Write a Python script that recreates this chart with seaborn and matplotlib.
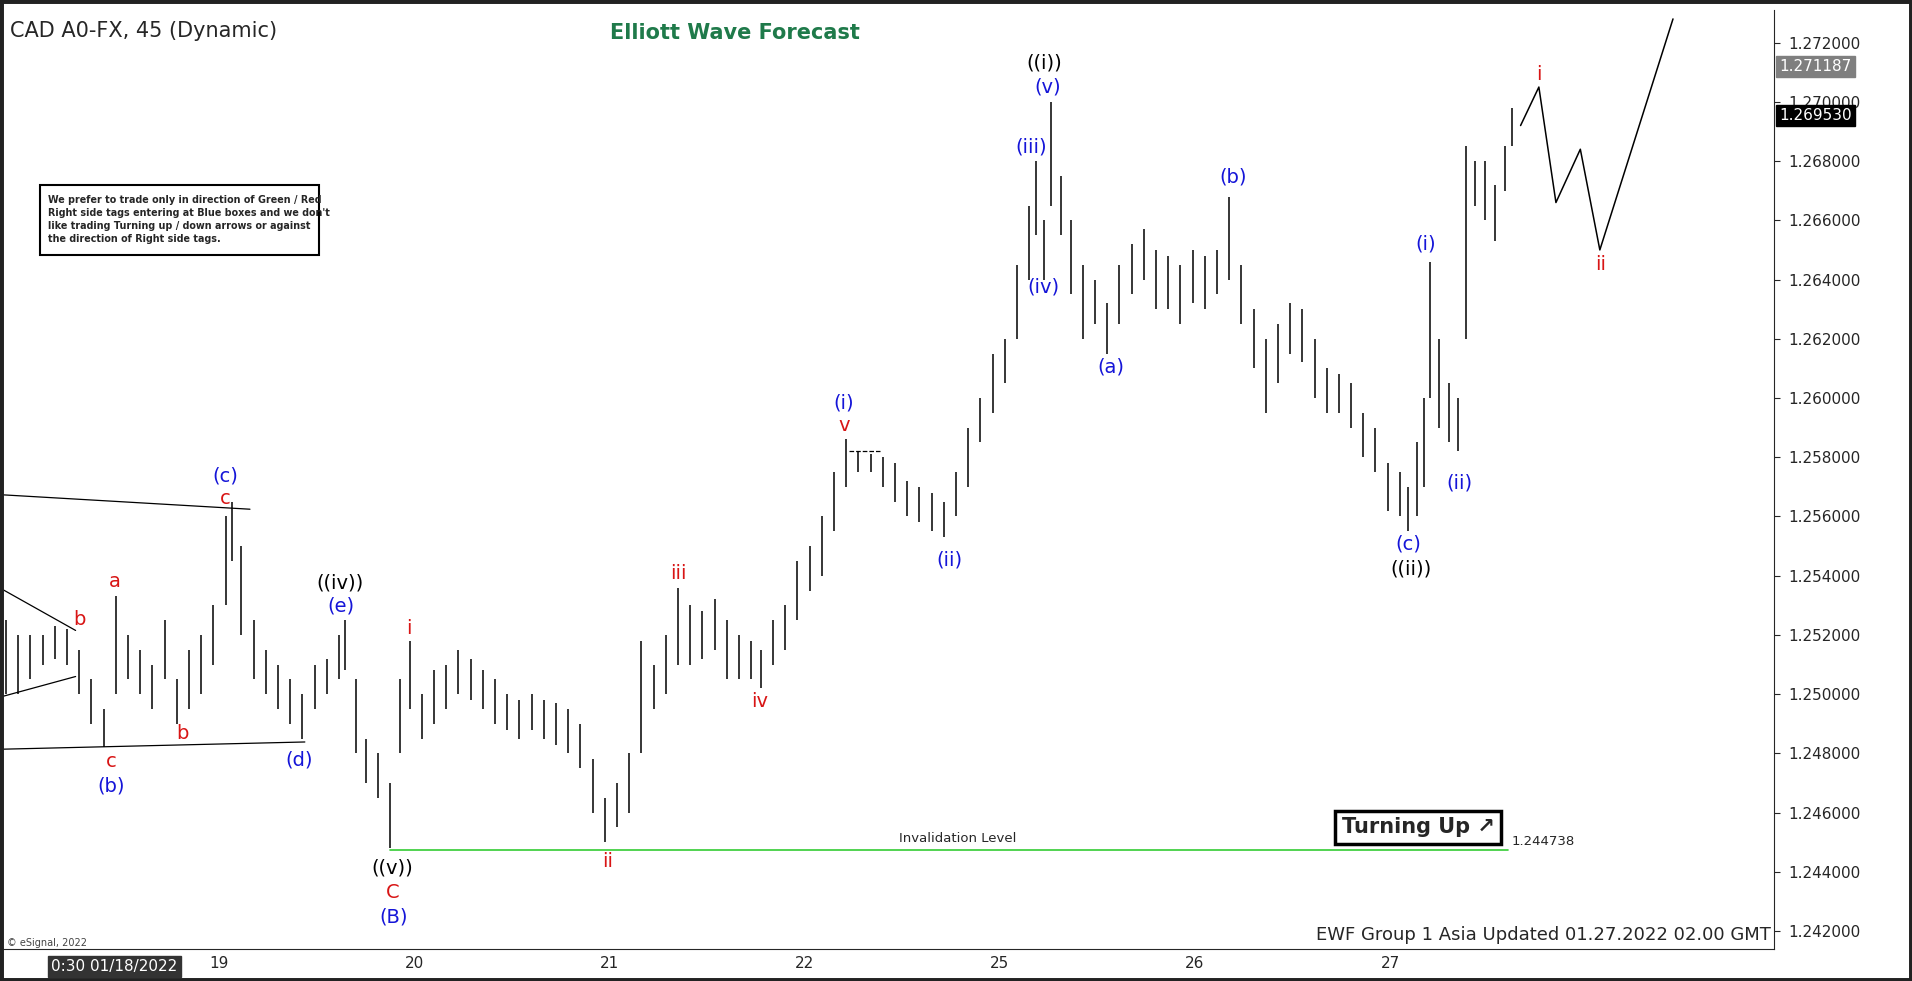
import numpy as np
import pandas as pd
import seaborn as sns
import matplotlib.pyplot as plt
from matplotlib.patches import Rectangle

# bar x positions in screen px (reference at 1568 wide), highs and lows
bar_px = [5, 15, 25, 35, 45, 55, 65, 75, 85, 95, 105, 115, 125, 135, 145, 155, 165, 175, 185, 190,
          198, 208, 218, 228, 238, 248, 258, 268, 278, 283, 292, 300, 310, 320, 328, 336, 346, 356, 366, 376,
          386, 396, 406, 416, 426, 436, 446, 456, 466, 476, 486, 496, 506, 516, 526, 536, 546, 556, 566, 576,
          586, 596, 606, 616, 624, 634, 644, 654, 664, 674, 684, 694, 704, 714, 724, 734, 744, 754, 764, 774,
          784, 794, 804, 814, 824, 834, 844, 850, 856, 862, 870, 878, 888, 898, 908, 918, 928, 938, 948, 958,
          968, 978, 988, 998, 1008, 1018, 1028, 1038, 1048, 1058, 1068, 1078, 1088, 1098, 1108, 1118, 1128, 1138, 1148, 1155,
          1162, 1168, 1173, 1180, 1188, 1196, 1202, 1210, 1218, 1226, 1234, 1240]
highs = [1.2525, 1.2520, 1.2520, 1.2520, 1.2523, 1.2522, 1.2515, 1.2505, 1.2495, 1.2533, 1.2520, 1.2515, 1.2510, 1.2525, 1.2505, 1.2515, 1.2520, 1.2530, 1.2560, 1.2565,
         1.2550, 1.2525, 1.2515, 1.2510, 1.2505, 1.2500, 1.2510, 1.2512, 1.2520, 1.2525, 1.2505, 1.2485, 1.2480, 1.2470, 1.2505, 1.2518, 1.2500, 1.2508, 1.2510, 1.2515,
         1.2512, 1.2508, 1.2505, 1.2500, 1.2498, 1.2500, 1.2498, 1.2497, 1.2495, 1.2490, 1.2478, 1.2465, 1.2470, 1.2480, 1.2518, 1.2510, 1.2520, 1.2536, 1.2530, 1.2528,
         1.2532, 1.2525, 1.2520, 1.2518, 1.2515, 1.2525, 1.2530, 1.2545, 1.2550, 1.2560, 1.2575, 1.2586, 1.2582, 1.2581, 1.2580, 1.2578, 1.2572, 1.2570, 1.2568, 1.2565,
         1.2575, 1.2590, 1.2600, 1.2615, 1.2620, 1.2645, 1.2665, 1.2680, 1.2660, 1.2700, 1.2675, 1.2660, 1.2645, 1.2640, 1.2632, 1.2645, 1.2652, 1.2657, 1.2650, 1.2648,
         1.2645, 1.2650, 1.2648, 1.2650, 1.2668, 1.2645, 1.2630, 1.2620, 1.2625, 1.2632, 1.2630, 1.2620, 1.2610, 1.2608, 1.2605, 1.2595, 1.2590, 1.2578, 1.2575, 1.2570,
         1.2585, 1.2600, 1.2646, 1.2620, 1.2605, 1.2600, 1.2685, 1.2680, 1.2680, 1.2672, 1.2685, 1.2698]
lows = [1.2500, 1.2500, 1.2505, 1.2510, 1.2512, 1.2510, 1.2500, 1.2490, 1.2482, 1.2500, 1.2505, 1.2500, 1.2495, 1.2505, 1.2490, 1.2495, 1.2500, 1.2510, 1.2530, 1.2545,
        1.2520, 1.2505, 1.2500, 1.2495, 1.2490, 1.2485, 1.2495, 1.2500, 1.2505, 1.2508, 1.2480, 1.2470, 1.2465, 1.2448, 1.2480, 1.2495, 1.2485, 1.2490, 1.2495, 1.2500,
        1.2498, 1.2495, 1.2490, 1.2488, 1.2485, 1.2488, 1.2485, 1.2483, 1.2480, 1.2475, 1.2460, 1.2450, 1.2455, 1.2460, 1.2480, 1.2495, 1.2500, 1.2510, 1.2510, 1.2512,
        1.2515, 1.2505, 1.2505, 1.2505, 1.2502, 1.2510, 1.2515, 1.2525, 1.2535, 1.2540, 1.2555, 1.2570, 1.2575, 1.2575, 1.2570, 1.2565, 1.2560, 1.2558, 1.2555, 1.2553,
        1.2560, 1.2570, 1.2585, 1.2595, 1.2605, 1.2620, 1.2640, 1.2655, 1.2640, 1.2665, 1.2655, 1.2635, 1.2620, 1.2625, 1.2615, 1.2625, 1.2635, 1.2640, 1.2630, 1.2630,
        1.2625, 1.2632, 1.2630, 1.2635, 1.2640, 1.2625, 1.2610, 1.2595, 1.2605, 1.2615, 1.2612, 1.2600, 1.2595, 1.2595, 1.2590, 1.2580, 1.2575, 1.2562, 1.2560, 1.2555,
        1.2560, 1.2570, 1.2600, 1.2590, 1.2585, 1.2582, 1.2620, 1.2665, 1.2660, 1.2653, 1.2670, 1.2685]

proj_px = [1247, 1262, 1276, 1296, 1312, 1372]
proj_price = [1.2692, 1.2705, 1.2666, 1.2684, 1.2650, 1.2728]

y_ticks = [1.242, 1.244, 1.246, 1.248, 1.250, 1.252, 1.254, 1.256, 1.258, 1.260, 1.262,
           1.264, 1.266, 1.268, 1.270, 1.272]
day_pos = [19, 20, 21, 22, 23, 24, 25]
day_labels = ["19", "20", "21", "22", "25", "26", "27"]
invalidation = 1.244738
last_price = 1.269530
high_price = 1.271187

W, H = 1568, 804
def t(px):
    return 17.875 + px / 160.0
def py(y):
    return 1.242 + (768 - y) / 24430.0

sns.set_style("white")
fig = plt.figure(figsize=(19.12, 9.81), dpi=100)
fig.patch.set_facecolor("white")
ax = fig.add_axes([0, 26 / H, 1455 / W, 1 - 34 / H])
ax.set_xlim(t(0), t(1455))
ax.set_ylim(py(783), py(8))

df = pd.DataFrame({"t": [t(p) for p in bar_px], "high": highs, "low": lows})
ax.vlines(df["t"], df["low"], df["high"], color="black", lw=1.1)

# trend / wedge lines
for (x0, y0, x1, y1) in [(0, 408, 205, 420), (0, 618, 250, 612), (0, 485, 62, 520), (0, 575, 62, 558)]:
    ax.plot([t(x0), t(x1)], [py(y0), py(y1)], color="black", lw=0.9)
ax.plot([t(696), t(722)], [1.2582, 1.2582], color="black", lw=0.9, ls="--")

proj = pd.DataFrame({"t": [t(p) for p in proj_px], "p": proj_price})
sns.lineplot(data=proj, x="t", y="p", ax=ax, color="black", lw=1.1, sort=False)

ax.plot([t(320), t(1237)], [invalidation, invalidation], color="#33cc33", lw=1.2)
ax.text(t(785), py(692), "Invalidation Level", fontsize=9.5, ha="center", va="center")
ax.text(t(1240), invalidation + 0.0003, f"{invalidation:.6f}", fontsize=9.5, va="center")

labels = [
    (91, 648, "(b)", "blue"), (91, 628, "c", "red"), (94, 480, "a", "red"), (65, 511, "b", "red"),
    (150, 605, "b", "red"), (185, 393, "(c)", "blue"), (185, 411, "c", "red"), (245, 627, "(d)", "blue"),
    (279, 481, "((iv))", "black"), (280, 500, "(e)", "blue"), (335, 518, "i", "red"),
    (322, 716, "((v))", "black"), (322, 736, "C", "red"), (323, 756, "(B)", "blue"),
    (498, 711, "ii", "red"), (556, 473, "iii", "red"), (623, 579, "iv", "red"),
    (692, 332, "(i)", "blue"), (692, 351, "v", "red"), (779, 462, "(ii)", "blue"),
    (846, 121, "(iii)", "blue"), (856, 237, "(iv)", "blue"), (859, 72, "(v)", "blue"),
    (856, 52, "((i))", "black"), (911, 303, "(a)", "blue"), (1011, 146, "(b)", "blue"),
    (1155, 449, "(c)", "blue"), (1157, 469, "((ii))", "black"), (1169, 201, "(i)", "blue"),
    (1197, 398, "(ii)", "blue"), (1262, 61, "i", "red"), (1313, 218, "ii", "red"),
]
color_map = {"blue": "#1515d8", "red": "#d81515", "black": "black"}
for x, y, s, c in labels:
    ax.text(t(x), py(y), s, color=color_map[c], fontsize=14, ha="center", va="center")

ax.yaxis.tick_right()
ax.set_yticks(y_ticks)
ax.set_yticklabels([f"{v:.6f}" for v in y_ticks], fontsize=11)
ax.tick_params(axis="y", length=4, direction="out", pad=6)
ax.set_xticks(day_pos)
ax.set_xticklabels(day_labels, fontsize=11)
ax.tick_params(axis="x", length=3, pad=2)
for s in ["top", "left"]:
    ax.spines[s].set_visible(False)
ax.set_xlabel("")
ax.set_ylabel("")

# price boxes on the right axis
for price, fc in [(high_price, "#7f7f7f"), (last_price, "black")]:
    ax.text(1.003, (price - py(783)) / (py(8) - py(783)), f"{price:.6f}", transform=ax.transAxes,
            fontsize=11, color="white", va="center", ha="left",
            bbox=dict(boxstyle="square,pad=0.2", fc=fc, ec=fc))

fig.text(8 / W, 1 - 25 / H, "CAD A0-FX, 45 (Dynamic)", fontsize=15, va="center")
fig.text(500 / W, 1 - 27 / H, "Elliott Wave Forecast", fontsize=15, fontweight="bold",
         color="#1f7a4a", va="center")
fig.patches.append(Rectangle((33 / W, 1 - 209 / H), 229 / W, 57 / H, transform=fig.transFigure,
                             fill=False, ec="black", lw=1.5))
fig.text(39 / W, 1 - 180 / H,
         "We prefer to trade only in direction of Green / Red\nRight side tags entering at Blue boxes and we don't\n"
         "like trading Turning up / down arrows or against\nthe direction of Right side tags.",
         fontsize=6.9, fontweight="bold", va="center", linespacing=1.35)
fig.text(1163 / W, 1 - 678 / H, "Turning Up \u2197", fontsize=15, fontweight="bold", ha="center", va="center",
         bbox=dict(boxstyle="square,pad=0.3", fc="white", ec="black", lw=2.5))
fig.text(1452 / W, 1 - 766 / H, "EWF Group 1 Asia Updated 01.27.2022 02.00 GMT", fontsize=13,
         ha="right", va="center")
fig.text(6 / W, 1 - 773 / H, "\u00a9 eSignal, 2022", fontsize=7, va="center", color="#444444")
fig.text(42 / W, 1 - 792 / H, "0:30 01/18/2022", fontsize=11, color="white", va="center",
         bbox=dict(boxstyle="square,pad=0.2", fc="#333333", ec="#333333"))
fig.patches.append(Rectangle((0, 0), 1, 1, transform=fig.transFigure, fill=False, ec="#222222", lw=5))

fig.savefig("out.png", dpi=100)
